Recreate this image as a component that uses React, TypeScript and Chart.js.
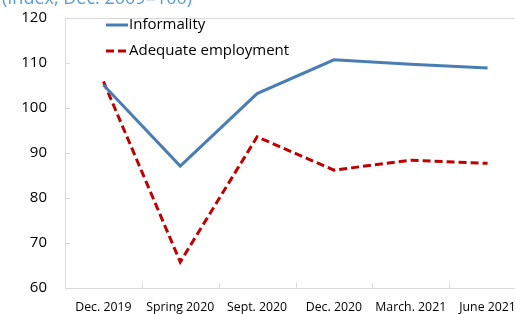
import React, { useEffect, useRef } from "react";
import { Chart, registerables } from "chart.js";

Chart.register(...registerables);

const categories = ["Dec. 2019", "Spring 2020", "Sept. 2020", "Dec. 2020", "March. 2021", "June 2021"];
const informality = [105.1, 87.1, 103.2, 110.7, 109.7, 108.9];
const adequateEmployment = [105.9, 65.8, 93.6, 86.2, 88.4, 87.7];
const yTicks = [60, 70, 80, 90, 100, 110, 120];
const titleText = "(Index, Dec. 2009=100)";

const FONT = "'Open Sans', 'Noto Sans', sans-serif";
const AXIS_COLOR = "#D9D9D9";

const innerTicksPlugin = {
  id: "innerTicks",
  afterDraw(chart: any) {
    const ctx = chart.ctx;
    const x = chart.scales.x;
    const y = chart.scales.y;
    const area = chart.chartArea;
    ctx.save();
    ctx.strokeStyle = AXIS_COLOR;
    ctx.lineWidth = 1;
    y.ticks.forEach((_t: any, i: number) => {
      const py = Math.round(y.getPixelForTick(i)) + 0.5;
      ctx.beginPath();
      ctx.moveTo(area.left, py);
      ctx.lineTo(area.left + 5, py);
      ctx.stroke();
    });
    for (let i = 1; i < categories.length; i++) {
      const px = Math.round(x.getPixelForValue(i - 0.5)) + 0.5;
      ctx.beginPath();
      ctx.moveTo(px, area.bottom);
      ctx.lineTo(px, area.bottom - 5);
      ctx.stroke();
    }
    ctx.restore();
  },
};

const innerLegendPlugin = {
  id: "innerLegend",
  afterDraw(chart: any) {
    const ctx = chart.ctx;
    const area = chart.chartArea;
    ctx.save();
    ctx.font = `15px ${FONT}`;
    ctx.textBaseline = "middle";
    ctx.fillStyle = "#000000";
    chart.data.datasets.forEach((ds: any, i: number) => {
      const cy = area.top + 7 + i * 26;
      const x0 = area.left + 41;
      ctx.beginPath();
      ctx.strokeStyle = ds.borderColor;
      ctx.lineWidth = 3;
      ctx.setLineDash(ds.borderDash || []);
      ctx.moveTo(x0, cy);
      ctx.lineTo(x0 + 22, cy);
      ctx.stroke();
      ctx.setLineDash([]);
      ctx.fillText(ds.label, x0 + 23, cy);
    });
    ctx.restore();
  },
};

export default function App() {
  const ref = useRef<HTMLCanvasElement | null>(null);

  useEffect(() => {
    if (!ref.current) return;
    const chart = new Chart(ref.current, {
      type: "line",
      data: {
        labels: categories,
        datasets: [
          {
            label: "Informality",
            data: informality,
            borderColor: "#4A7EB3",
            backgroundColor: "#4A7EB3",
            borderWidth: 3,
            pointRadius: 0,
            tension: 0,
          },
          {
            label: "Adequate employment",
            data: adequateEmployment,
            borderColor: "#C00000",
            backgroundColor: "#C00000",
            borderWidth: 3,
            borderDash: [8, 4],
            pointRadius: 0,
            tension: 0,
          },
        ],
      },
      options: {
        animation: false,
        responsive: false,
        devicePixelRatio: 1,
        layout: { padding: { left: 2, right: 4, top: 0, bottom: 0 } },
        plugins: {
          legend: { display: false },
          tooltip: { enabled: false },
          title: {
            display: true,
            text: titleText,
            align: "start",
            color: "#5B9BD5",
            font: { family: FONT, size: 18, weight: "normal" },
            padding: { top: 0, bottom: 8.4 },
          },
        },
        scales: {
          x: {
            type: "category",
            offset: true,
            grid: { display: false, drawTicks: false, offset: true },
            border: { display: true, color: AXIS_COLOR, width: 1 },
            ticks: {
              color: "#000000",
              font: { family: FONT, size: 12.3 },
              padding: 12,
              maxRotation: 0,
              autoSkip: false,
            },
            afterFit: (s: any) => {
              s.height = 40;
            },
          },
          y: {
            min: 60,
            max: 120,
            afterBuildTicks: (s: any) => {
              s.ticks = yTicks.map((v) => ({ value: v }));
            },
            grid: {
              drawTicks: false,
              color: (c: any) => (c.tick && c.tick.value === 120 ? AXIS_COLOR : "rgba(0,0,0,0)"),
            },
            border: { display: true, color: AXIS_COLOR, width: 1 },
            ticks: {
              color: "#000000",
              font: { family: FONT, size: 15 },
              padding: 18,
            },
            afterFit: (s: any) => {
              s.width = 63;
            },
          },
        },
      },
      plugins: [innerTicksPlugin, innerLegendPlugin],
    });
    return () => chart.destroy();
  }, []);

  return (
    <div
      style={{
        position: "fixed",
        left: 0,
        top: 0,
        width: 515,
        height: 314,
        overflow: "hidden",
        background: "#ffffff",
      }}
    >
      <canvas
        ref={ref}
        width={530}
        height={340}
        style={{ position: "absolute", left: 0, top: -12, width: 530, height: 340 }}
      />
    </div>
  );
}
